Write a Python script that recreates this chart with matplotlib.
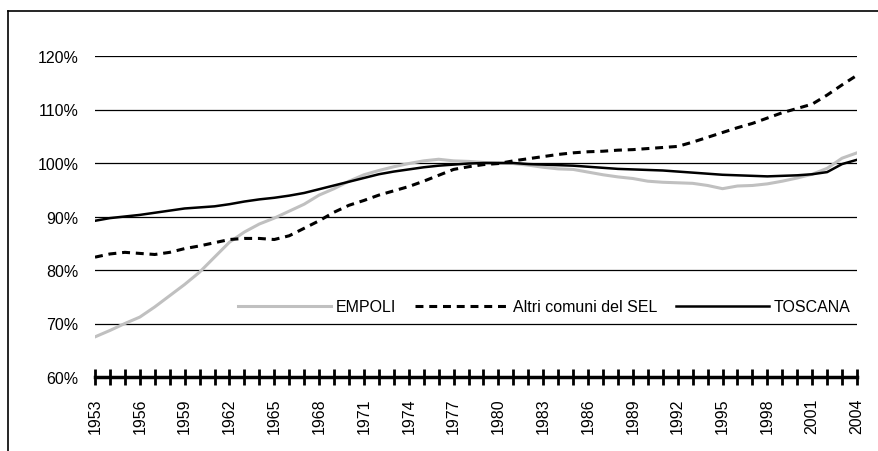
import matplotlib
matplotlib.use("Agg")
import matplotlib.pyplot as plt
from matplotlib.lines import Line2D
from matplotlib.ticker import FuncFormatter, MultipleLocator

# ── Data (index, 1980 = 100%) ────────────────────────────────────────────────
years = list(range(1953, 2005))

empoli = [67.5, 68.7, 70.0, 71.2, 73.1, 75.2, 77.3, 79.6, 82.4, 85.2,
          87.1, 88.6, 89.7, 91.0, 92.3, 94.0, 95.2, 96.6, 97.8, 98.6,
          99.3, 99.9, 100.4, 100.7, 100.4, 100.3, 100.1, 100.0, 99.9, 99.6,
          99.2, 98.9, 98.8, 98.3, 97.8, 97.4, 97.1, 96.6, 96.4, 96.3,
          96.2, 95.8, 95.2, 95.7, 95.8, 96.1, 96.6, 97.2, 97.9, 99.0,
          100.9, 101.9]

altri = [82.4, 83.0, 83.3, 83.1, 82.9, 83.3, 84.0, 84.5, 85.1, 85.7,
         85.9, 85.9, 85.7, 86.4, 87.8, 89.2, 90.8, 92.1, 93.0, 94.0,
         94.8, 95.6, 96.6, 97.7, 98.8, 99.3, 99.7, 99.9, 100.4, 100.8,
         101.2, 101.6, 101.9, 102.1, 102.2, 102.4, 102.5, 102.7, 102.9, 103.1,
         103.9, 104.8, 105.7, 106.6, 107.4, 108.4, 109.4, 110.2, 111.0, 112.7,
         114.6, 116.4]

toscana = [89.2, 89.7, 90.0, 90.3, 90.7, 91.1, 91.5, 91.7, 91.9, 92.3,
           92.8, 93.2, 93.5, 93.9, 94.4, 95.1, 95.8, 96.5, 97.2, 97.9,
           98.4, 98.8, 99.2, 99.5, 99.7, 99.9, 100.0, 100.0, 100.0, 99.8,
           99.7, 99.6, 99.5, 99.3, 99.1, 98.9, 98.8, 98.7, 98.6, 98.4,
           98.2, 98.0, 97.8, 97.7, 97.6, 97.5, 97.6, 97.7, 97.9, 98.3,
           99.8, 100.6]

labels = ["EMPOLI", "Altri comuni del SEL", "TOSCANA"]

plt.rcParams.update({
    "font.family": ["Liberation Sans Narrow", "Liberation Sans", "DejaVu Sans"],
    "font.size": 11.5,
})

fig = plt.figure(figsize=(8.79, 4.52), dpi=100)
ax = fig.add_axes([95 / 879, 1 - 378 / 452, (857 - 95) / 879, (378 - 57) / 452])

# outer frame (top and left only)
fig.add_artist(Line2D([8 / 879, 8 / 879], [0, 1 - 12 / 452], transform=fig.transFigure,
                      color="black", lw=1.2))
fig.add_artist(Line2D([8 / 879, 1], [1 - 12 / 452, 1 - 12 / 452], transform=fig.transFigure,
                      color="black", lw=1.2))

# gridlines
for v in range(70, 121, 10):
    ax.axhline(v, color="black", lw=0.9, zorder=1)

ax.plot(years, empoli, color="#c0c0c0", lw=2.2, label=labels[0], zorder=3)
ax.plot(years, altri, color="black", lw=2.2, dashes=(2.6, 1.9), label=labels[1], zorder=4)
ax.plot(years, toscana, color="black", lw=1.8, label=labels[2], zorder=5)

ax.set_xlim(1953, 2004)
ax.set_ylim(60, 120)
ax.yaxis.set_major_locator(MultipleLocator(10))
ax.yaxis.set_major_formatter(FuncFormatter(lambda v, p: f"{v:.0f}%"))
ax.tick_params(axis="y", length=0, pad=12)

ax.set_xticks(years)
ax.set_xticklabels([str(y) if (y - 1953) % 3 == 0 else "" for y in years], rotation=90)
ax.tick_params(axis="x", direction="inout", length=11, width=2, pad=9)

for s in ["top", "right", "left"]:
    ax.spines[s].set_visible(False)
ax.spines["bottom"].set_linewidth(2.5)
ax.spines["bottom"].set_zorder(6)

ax.legend(loc="lower right", bbox_to_anchor=(1.01, 0.15), ncol=3, frameon=False,
          handlelength=5.8, handletextpad=0.3, columnspacing=1.2)

fig.savefig("out.png", dpi=100, facecolor="white")
